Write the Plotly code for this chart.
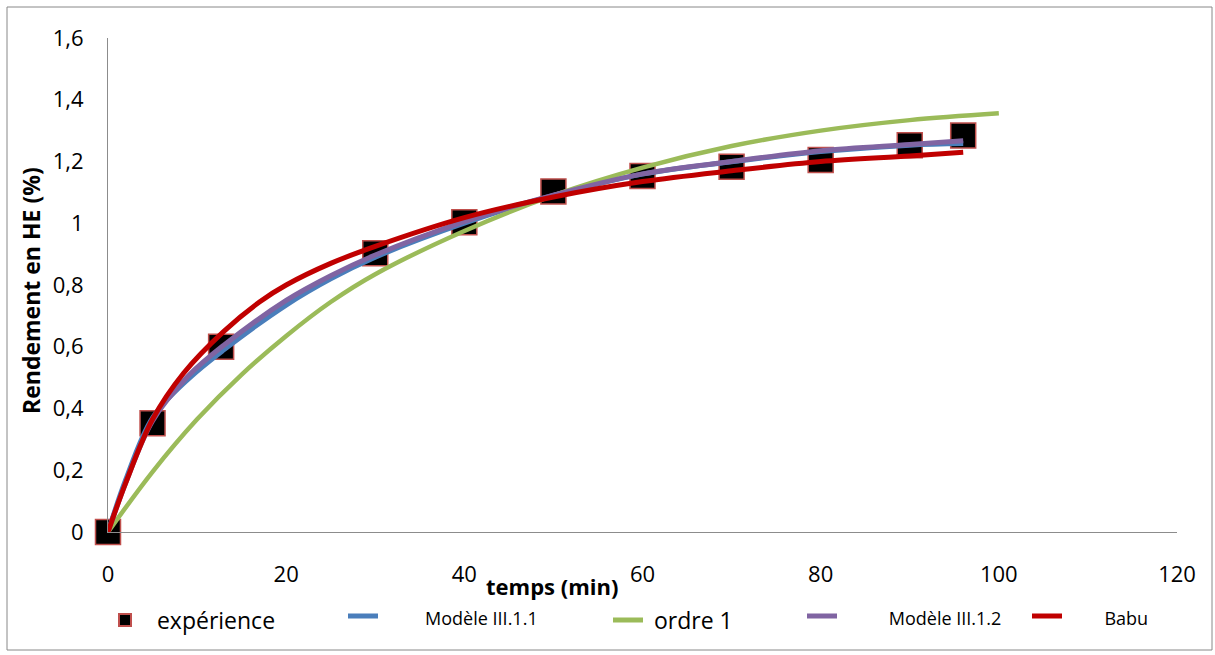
import plotly.graph_objects as go

# Experimental data
t_exp = [0, 5, 12.7, 30, 40, 50, 60, 70, 80, 90, 96]
y_exp = [0, 0.352, 0.60, 0.903, 1.003, 1.103, 1.153, 1.183, 1.205, 1.253, 1.284]

# Modèle III.1.1 (blue)
t_m1 = [0, 2, 5, 9, 13, 20, 25, 30, 40, 50, 60, 70, 80, 90, 96]
y_m1 = [0, 0.17, 0.37, 0.495, 0.59, 0.735, 0.82, 0.89, 1.0, 1.09, 1.159, 1.199, 1.232, 1.253, 1.258]

# ordre 1 (green)
t_o1 = [0, 5, 10, 15, 20, 25, 30, 40, 50, 60, 70, 80, 90, 100]
y_o1 = [0, 0.195, 0.365, 0.51, 0.635, 0.745, 0.835, 0.975, 1.09, 1.18, 1.25, 1.30, 1.334, 1.356]

# Modèle III.1.2 (purple)
t_m2 = [0, 2, 5, 9, 13, 20, 25, 30, 40, 50, 60, 70, 80, 90, 96]
y_m2 = [0, 0.16, 0.36, 0.505, 0.605, 0.75, 0.83, 0.897, 1.005, 1.091, 1.16, 1.20, 1.235, 1.255, 1.267]

# Babu (red)
t_b = [0, 2, 5, 8.5, 13, 17, 20, 25, 30, 40, 50, 60, 70, 80, 90, 96]
y_b = [0, 0.16, 0.365, 0.515, 0.65, 0.745, 0.80, 0.87, 0.925, 1.018, 1.085, 1.135, 1.17, 1.20, 1.218, 1.23]

FONT = "Open Sans"
NB = "\u00a0"
PLOT_L, PLOT_W = 108, 1069
PLOT_B, PLOT_H = 532, 494


def px_x(px):
    return (px - PLOT_L) / PLOT_W


def px_y(py):
    return (PLOT_B - py) / PLOT_H


fig = go.Figure()
fig.add_trace(go.Scatter(
    x=t_exp, y=y_exp, mode="markers", name=NB * 2 + "expérience",
    cliponaxis=False, legend="legend",
    marker=dict(symbol="square", size=25, color="black",
                line=dict(color="#C0504D", width=1.5))))
fig.add_trace(go.Scatter(
    x=t_m1, y=y_m1, mode="lines", legend="legend2",
    name="<span style='font-size:18px'>" + NB * 9 + "Modèle III.1.1</span>",
    line=dict(color="#4A7EBB", width=5, shape="spline", smoothing=1.0)))
fig.add_trace(go.Scatter(
    x=t_o1, y=y_o1, mode="lines", legend="legend3",
    name=NB + "ordre 1",
    line=dict(color="#9BBB59", width=4.5, shape="spline", smoothing=1.0)))
fig.add_trace(go.Scatter(
    x=t_m2, y=y_m2, mode="lines", legend="legend4",
    name="<span style='font-size:18px'>" + NB * 10 + "Modèle III.1.2</span>",
    line=dict(color="#8064A2", width=5, shape="spline", smoothing=1.0)))
fig.add_trace(go.Scatter(
    x=t_b, y=y_b, mode="lines", legend="legend5",
    name="<span style='font-size:18px'>" + NB * 8 + "Babu</span>",
    line=dict(color="#C00000", width=5, shape="spline", smoothing=1.0)))

leg_common = dict(orientation="h", yanchor="middle", xanchor="left",
                  font=dict(family=FONT, size=23), bgcolor="rgba(0,0,0,0)",
                  itemsizing="constant")

fig.update_layout(
    width=1215, height=655,
    margin=dict(l=108, r=38, t=38, b=123),
    paper_bgcolor="white", plot_bgcolor="white",
    separators=", ",
    font=dict(family=FONT, size=22, color="black"),
    showlegend=True,
    legend=dict(x=px_x(105), y=px_y(620), **leg_common),
    legend2=dict(x=px_x(343), y=px_y(616), **leg_common),
    legend3=dict(x=px_x(608), y=px_y(620), **leg_common),
    legend4=dict(x=px_x(802), y=px_y(616), **leg_common),
    legend5=dict(x=px_x(1027), y=px_y(616), **leg_common),
    xaxis=dict(range=[0, 120], dtick=20, tick0=0, showgrid=False, zeroline=False,
               showline=True, linecolor="#8c8c8c", linewidth=1.2, ticks="",
               ticklabelstandoff=22, tickfont=dict(size=22)),
    yaxis=dict(range=[0, 1.6], dtick=0.2, tick0=0, showgrid=False, zeroline=False,
               showline=True, linecolor="#8c8c8c", linewidth=1.2, ticks="",
               ticklabelstandoff=19, tickfont=dict(size=22)),
)

fig.add_annotation(text="<b>Rendement en HE (%)</b>", xref="paper", yref="paper",
                   x=px_x(31), y=px_y(291), xanchor="center", yanchor="middle",
                   textangle=-90, showarrow=False, font=dict(family=FONT, size=23))
fig.add_annotation(text="<b>temps (min)</b>", xref="paper", yref="paper",
                   x=px_x(552), y=px_y(586), xanchor="center", yanchor="middle",
                   showarrow=False, font=dict(family=FONT, size=22))

# outer chart frame
fig.add_shape(type="rect", xref="paper", yref="paper",
              x0=px_x(7), x1=px_x(1212), y0=px_y(650), y1=px_y(7),
              line=dict(color="#888888", width=1), layer="below")

fig.write_html("out.html")
